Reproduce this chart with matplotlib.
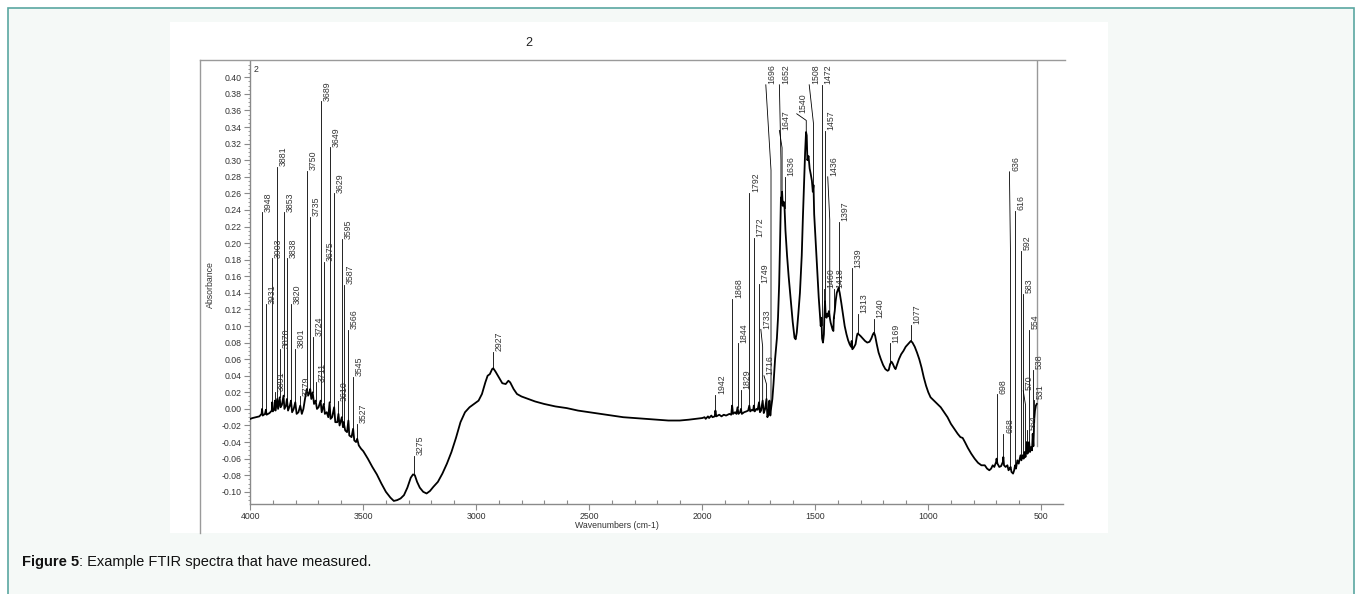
import numpy as np
import matplotlib
matplotlib.use('Agg')
import matplotlib.pyplot as plt
from matplotlib.patches import Rectangle
from matplotlib.ticker import MultipleLocator, FuncFormatter

plt.rcParams['font.family'] = ['Liberation Sans', 'DejaVu Sans']

# spectrum (wavenumber, absorbance)
wavenumber = [
    4000, 3990, 3975, 3960, 3950, 3948, 3945, 3935, 3931, 3928, 3915, 3905, 3903, 3900,
    3893, 3891, 3888, 3881, 3877, 3870, 3866, 3860, 3853, 3849, 3842, 3838, 3833, 3825,
    3820, 3815, 3808, 3801, 3795, 3787, 3779, 3772, 3765, 3758, 3750, 3744, 3738, 3735,
    3730, 3724, 3718, 3711, 3705, 3698, 3689, 3684, 3675, 3670, 3662, 3655, 3649, 3645,
    3638, 3629, 3624, 3615, 3610, 3605, 3595, 3590, 3587, 3580, 3572, 3566, 3562, 3552,
    3545, 3540, 3532, 3527, 3520, 3510, 3500,
    3480, 3460, 3440, 3420, 3400, 3380, 3365, 3350, 3335, 3320, 3305, 3290, 3280, 3272,
    3262, 3250, 3235, 3220, 3205, 3190, 3170, 3150, 3130, 3110, 3090, 3070, 3050, 3030,
    3010, 2990, 2975, 2960, 2950, 2940, 2930, 2925, 2915, 2900, 2885, 2870, 2858, 2850,
    2835, 2820, 2800, 2770, 2740, 2700, 2650, 2600, 2550, 2500, 2450, 2400, 2350, 2300,
    2250, 2200, 2150, 2100, 2060, 2030, 2000,
    1990, 1985, 1975, 1970, 1960, 1955, 1945, 1942, 1938, 1925, 1915, 1905, 1895, 1880,
    1872, 1868, 1864, 1855, 1849, 1844, 1840, 1833, 1829, 1825, 1815, 1805, 1797, 1792,
    1788, 1780, 1775, 1772, 1768, 1760, 1755, 1749, 1745, 1740, 1733, 1728, 1722, 1716,
    1712, 1707, 1703, 1699, 1696, 1690, 1685, 1678, 1670, 1665, 1660, 1656, 1653, 1652,
    1650, 1647, 1644, 1640, 1636, 1632, 1625, 1618, 1610, 1600, 1592, 1587, 1582, 1575,
    1568, 1560, 1555, 1550, 1545, 1541, 1538, 1535, 1530, 1525, 1520, 1515, 1511, 1508,
    1505, 1500, 1495, 1490, 1485, 1480, 1476, 1473, 1470, 1466, 1462, 1460, 1457, 1454,
    1450, 1447, 1443, 1440, 1436, 1432, 1428, 1424, 1420, 1418, 1414, 1410, 1405, 1400,
    1397, 1392, 1385, 1378, 1370, 1362, 1355, 1348, 1342, 1339, 1336, 1330, 1322, 1316,
    1313, 1308, 1300, 1290, 1280, 1270, 1260, 1252, 1245, 1240, 1235, 1228, 1220, 1210,
    1200, 1190, 1180, 1175, 1169, 1163, 1158, 1150, 1145, 1140, 1130, 1120, 1110, 1100,
    1090, 1080, 1077, 1070, 1060, 1050, 1040, 1030, 1020, 1010, 1000, 990, 975, 960,
    945, 930, 915, 900, 885, 870, 858, 848, 838, 825, 810, 795, 780, 765,
    750, 740, 730, 722, 715, 708, 700, 698, 694, 686, 678, 670, 668, 665,
    658, 650, 645, 640, 636, 632, 625, 620, 616, 612, 606, 600, 592, 588,
    583, 578, 574, 570, 566, 564, 561, 557, 554, 550, 545, 541, 538, 535,
    531, 528, 524, 520,
]
absorbance = [
    -0.012, -0.011, -0.010, -0.009, -0.006, 0.000, -0.008, -0.006, -0.001, -0.007, -0.005, -0.002, 0.008, -0.003,
    0.000, 0.010, -0.002, 0.012, 0.000, 0.014, 0.002, 0.005, 0.016, 0.000, 0.004, 0.012, -0.002, 0.004,
    0.010, -0.004, 0.000, 0.008, -0.006, -0.004, 0.004, -0.006, 0.000, 0.012, 0.024, 0.016, 0.020, 0.024,
    0.012, 0.020, 0.006, 0.010, 0.000, 0.002, 0.010, -0.004, 0.006, -0.006, -0.004, -0.010, 0.008, -0.012,
    -0.010, 0.002, -0.016, -0.016, -0.006, -0.020, -0.010, -0.022, -0.016, -0.026, -0.028, -0.014, -0.032, -0.034,
    -0.024, -0.038, -0.040, -0.036, -0.044, -0.048, -0.051,
    -0.060, -0.070, -0.079, -0.090, -0.100, -0.107, -0.111, -0.110, -0.108, -0.104, -0.095, -0.083, -0.079, -0.080,
    -0.088, -0.095, -0.100, -0.102, -0.099, -0.094, -0.088, -0.078, -0.066, -0.052, -0.035, -0.016, -0.004, 0.002,
    0.006, 0.010, 0.018, 0.032, 0.040, 0.042, 0.048, 0.049, 0.045, 0.038, 0.031, 0.030, 0.034, 0.032,
    0.024, 0.018, 0.015, 0.012, 0.009, 0.006, 0.003, 0.001, -0.002, -0.004, -0.006, -0.008, -0.010, -0.011,
    -0.012, -0.013, -0.014, -0.014, -0.013, -0.012, -0.011,
    -0.010, -0.012, -0.009, -0.011, -0.008, -0.010, -0.009, -0.002, -0.009, -0.007, -0.009, -0.007, -0.008, -0.006,
    -0.007, 0.004, -0.006, -0.004, -0.006, 0.002, -0.006, -0.004, 0.000, -0.006, -0.004, -0.003, -0.002, 0.004,
    -0.003, -0.001, -0.002, 0.004, -0.003, 0.000, -0.001, 0.008, -0.004, -0.002, 0.010, -0.005, 0.000, 0.012,
    -0.010, -0.006, 0.010, -0.008, 0.000, 0.012, 0.030, 0.060, 0.085, 0.110, 0.150, 0.200, 0.245, 0.255,
    0.250, 0.262, 0.245, 0.250, 0.242, 0.215, 0.185, 0.160, 0.135, 0.105, 0.086, 0.084, 0.092, 0.115,
    0.140, 0.185, 0.230, 0.270, 0.310, 0.334, 0.330, 0.300, 0.305, 0.290, 0.283, 0.275, 0.262, 0.270,
    0.235, 0.210, 0.185, 0.160, 0.135, 0.115, 0.100, 0.110, 0.085, 0.080, 0.090, 0.110, 0.130, 0.112,
    0.110, 0.115, 0.112, 0.118, 0.110, 0.104, 0.100, 0.096, 0.094, 0.110, 0.118, 0.130, 0.140, 0.144,
    0.146, 0.140, 0.128, 0.115, 0.100, 0.090, 0.083, 0.078, 0.075, 0.082, 0.072, 0.074, 0.078, 0.088,
    0.091, 0.090, 0.088, 0.085, 0.082, 0.080, 0.081, 0.085, 0.090, 0.092, 0.088, 0.078, 0.068, 0.060,
    0.053, 0.048, 0.046, 0.047, 0.054, 0.057, 0.055, 0.050, 0.048, 0.052, 0.060, 0.066, 0.070, 0.075,
    0.078, 0.081, 0.082, 0.080, 0.075, 0.068, 0.060, 0.050, 0.038, 0.028, 0.020, 0.014, 0.010, 0.006,
    0.002, -0.004, -0.010, -0.018, -0.024, -0.030, -0.034, -0.035, -0.040, -0.047, -0.054, -0.060, -0.065, -0.068,
    -0.068, -0.072, -0.074, -0.072, -0.068, -0.070, -0.064, -0.060, -0.066, -0.070, -0.069, -0.064, -0.058, -0.068,
    -0.070, -0.068, -0.074, -0.072, -0.070, -0.076, -0.078, -0.074, -0.068, -0.072, -0.062, -0.066, -0.056, -0.062,
    -0.056, -0.060, -0.052, -0.058, -0.050, -0.040, -0.054, -0.048, -0.040, -0.052, -0.046, -0.050, -0.030, -0.045,
    -0.012, -0.002, 0.004, 0.006,
]

# peak labels with a straight vertical line: text, position, top of line
peak_labels = ['3948', '3931', '3903', '3891', '3881', '3870', '3853', '3838', '3820', '3801',
               '3779', '3750', '3735', '3724', '3711', '3689', '3675', '3649', '3629', '3610',
               '3595', '3587', '3566', '3545', '3527', '3275', '2927', '1942', '1868', '1844',
               '1829', '1792', '1772', '1749', '1636', '1472', '1460', '1457', '1418', '1397',
               '1339', '1313', '1240', '1169', '1077', '698', '668', '616', '592', '583',
               '564', '554', '538', '531']
peak_wn = [3948, 3931, 3903, 3891, 3881, 3870, 3853, 3838, 3820, 3801,
           3779, 3750, 3735, 3724, 3711, 3689, 3675, 3649, 3629, 3610,
           3595, 3587, 3566, 3545, 3527, 3275, 2927, 1942, 1868, 1844,
           1829, 1792, 1772, 1749, 1636, 1472, 1460, 1457, 1418, 1397,
           1339, 1313, 1240, 1169, 1077, 698, 668, 616, 592, 583,
           564, 554, 538, 531]
peak_top = [0.237, 0.126, 0.1815, 0.021, 0.292, 0.072, 0.237, 0.1815, 0.126, 0.072,
            0.015, 0.287, 0.232, 0.087, 0.032, 0.371, 0.177, 0.3155, 0.260, 0.009,
            0.2045, 0.150, 0.095, 0.0386, -0.0176, -0.0567, 0.0688, 0.0165, 0.133, 0.079,
            0.0234, 0.261, 0.2065, 0.151, 0.280, 0.391, 0.145, 0.335, 0.145, 0.2255,
            0.1695, 0.115, 0.109, 0.079, 0.101, 0.0174, -0.030, 0.2386, 0.1907, 0.139,
            -0.026, 0.095, 0.0467, 0.0105]

# peak labels moved aside, joined by a bent leader line
leader_labels = ['1733', '1716', '1696', '1652', '1647', '1540', '1508', '1436', '636', '570']
leader_wn = [1733, 1716, 1696, 1652, 1647, 1540, 1508, 1436, 636, 570]
leader_text_wn = [1741, 1727, 1719, 1659, 1659, 1582, 1527, 1445, 641, 580]
leader_top = [0.096, 0.040, 0.391, 0.391, 0.336, 0.356, 0.391, 0.280, 0.286, 0.022]
leader_bend = [0.075, 0.030, 0.288, 0.300, 0.315, 0.348, 0.344, 0.228, 0.179, 0.005]

W, H = 1362, 594


def fx(x):
    return x / W


def fy(y):
    return 1 - y / H


fig = plt.figure(figsize=(W / 100, H / 100), dpi=100)
fig.patch.set_facecolor('white')

# page background, border and the white chart area
fig.add_artist(Rectangle((fx(8), fy(600)), fx(1346), 592 / H, transform=fig.transFigure,
                         facecolor='#f5f9f7', edgecolor='#5aa7a1', linewidth=1.2, zorder=0))
fig.add_artist(Rectangle((fx(170), fy(533)), fx(938), 511 / H, transform=fig.transFigure,
                         facecolor='white', edgecolor='none', zorder=0))
fig.add_artist(plt.Line2D([fx(200), fx(1065)], [fy(60), fy(60)], transform=fig.transFigure,
                          color='#9a9a9a', linewidth=1.0))
fig.add_artist(plt.Line2D([fx(200), fx(200)], [fy(60), fy(533)], transform=fig.transFigure,
                          color='#9a9a9a', linewidth=1.0))

ax = fig.add_axes([fx(250.3), fy(504), fx(1063 - 250.3), (504 - 61) / H])
ax.set_facecolor('none')

wn = np.array(wavenumber)
ab = np.array(absorbance)
ax.plot(wn, ab, color='black', linewidth=1.3, zorder=3)

# cursor line at the end of the spectrum
ax.plot([519, 519], [-0.045, 0.4197], color='#999999', linewidth=1.0, zorder=2)

order = np.argsort(wn)
label_kw = dict(rotation=90, fontsize=6.3, color='#333333', ha='left', va='bottom',
                textcoords='offset points', xytext=(1.2, 0.6))

for txt, w, top in zip(peak_labels, peak_wn, peak_top):
    base = np.interp(w, wn[order], ab[order])
    ax.plot([w, w], [base, top], color='black', linewidth=0.6, zorder=2)
    ax.annotate(txt, (w, top), **label_kw)

for txt, w, tw, top, bend in zip(leader_labels, leader_wn, leader_text_wn, leader_top, leader_bend):
    base = np.interp(w, wn[order], ab[order])
    ax.plot([tw, w, w], [top, bend, base], color='black', linewidth=0.6, zorder=2)
    ax.annotate(txt, (tw, top), **label_kw)

ax.set_xlim(4000, 404)
ax.set_ylim(-0.1147, 0.4197)

ax.xaxis.set_major_locator(MultipleLocator(500))
ax.xaxis.set_minor_locator(MultipleLocator(100))
ax.yaxis.set_major_locator(MultipleLocator(0.02))
ax.yaxis.set_minor_locator(MultipleLocator(0.005))
ax.yaxis.set_major_formatter(FuncFormatter(lambda v, pos: '%.2f' % (round(v, 3) + 0.0)))

for side in ['top', 'right']:
    ax.spines[side].set_visible(False)
ax.spines['left'].set_color('#8a8a8a')
ax.spines['left'].set_linestyle((0, (1, 1)))
ax.spines['left'].set_linewidth(1.0)
ax.spines['bottom'].set_color('#8a8a8a')
ax.spines['bottom'].set_linewidth(1.0)

ax.tick_params(axis='both', which='major', labelsize=6.3, labelcolor='#333333', color='#8a8a8a',
               length=4, width=0.8, pad=2)
ax.tick_params(axis='x', which='minor', direction='in', length=3, color='#8a8a8a', width=0.8)
ax.tick_params(axis='y', which='minor', length=1.5, color='#8a8a8a', width=0.6)

fig.text(fx(617), fy(526), 'Wavenumbers (cm-1)', fontsize=6.3, color='#333333', ha='center', va='center')
fig.text(fx(210), fy(285), 'Absorbance', fontsize=6.3, color='#333333', ha='center', va='center', rotation=90)
fig.text(fx(529), fy(43), '2', fontsize=9, color='#222222', ha='center', va='center')
fig.text(fx(254), fy(69), '2', fontsize=6.3, color='#333333', ha='left', va='center')

# caption with bold lead-in
cap = fig.text(fx(22), fy(562), 'Figure 5', fontsize=10.5, weight='bold', color='#111111', va='center')
renderer = fig.canvas.get_renderer()
bb = cap.get_window_extent(renderer)
fig.text(bb.x1 / W, fy(562), ': Example FTIR spectra that have measured.', fontsize=10.5,
         color='#111111', va='center')

fig.savefig('out.png', dpi=100)
